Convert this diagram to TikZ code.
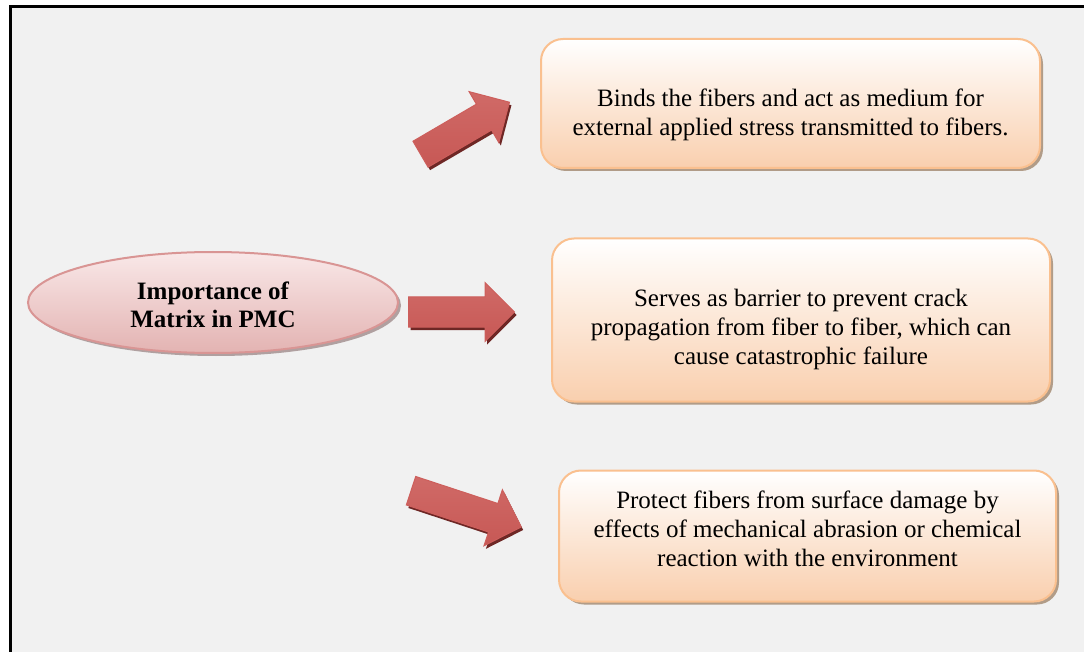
\documentclass[tikz,border=0pt]{standalone}
\usepackage{fontspec}
\setmainfont{Liberation Serif}
\usetikzlibrary{shapes.geometric,shapes.arrows,shadows}

\definecolor{pagegray}{HTML}{F1F1F1}
\definecolor{boxedge}{HTML}{FAC08F}
\definecolor{boxbottom}{HTML}{F9CFAE}
\definecolor{boxshadow}{HTML}{B19C88}
\definecolor{ovaledge}{HTML}{D99594}
\definecolor{ovaltop}{HTML}{F9E8E8}
\definecolor{ovalbottom}{HTML}{E3B3B2}
\definecolor{ovalshadow}{HTML}{B0A0A0}
\definecolor{arrowmid}{HTML}{BE4B48}
\definecolor{arrowlight}{HTML}{D06A67}
\definecolor{arrowlow}{HTML}{C75855}
\definecolor{arrowedge}{HTML}{CD5F5C}
\definecolor{arrowshadow}{HTML}{6E2725}

\tikzset{
  infobox/.style={draw=boxedge, line width=2pt, rounded corners=22pt,
    top color=white, bottom color=boxbottom, inner sep=0pt,
    drop shadow={shadow xshift=3pt, shadow yshift=-3pt, fill=boxshadow, opacity=1}},
  oval/.style={ellipse, draw=ovaledge, line width=2pt,
    top color=ovaltop, bottom color=ovalbottom, inner sep=0pt,
    minimum width=370pt, minimum height=101pt,
    drop shadow={shadow xshift=3pt, shadow yshift=-3pt, fill=ovalshadow, opacity=1}},
  blockarrow/.style={single arrow, inner xsep=0pt, inner ysep=14.5pt,
    single arrow head extend=14.5pt, draw=arrowedge, line width=1pt,
    top color=arrowlight, middle color=arrowmid, bottom color=arrowlow,
    drop shadow={shadow xshift=2pt, shadow yshift=-3pt, fill=arrowshadow, opacity=1}},
  bodytext/.style={font=\fontsize{25}{29}\selectfont, align=center,
    inner sep=0pt, anchor=north},
}

\begin{document}
\begin{tikzpicture}[x=1pt, y=-1pt]
  \useasboundingbox (0,0) rectangle (1084,652);
  \clip (0,0) rectangle (1084,652);
  \fill[white] (0,0) rectangle (1084,652);

  % outer frame
  \draw[line width=3pt, fill=pagegray] (10.5,7) rectangle (1110,680);

  % central topic
  \node[oval] (topic) at (213,302.5) {};
  \node[bodytext, font=\fontsize{25}{28}\selectfont\bfseries] (topictext) at (213,282)
    {Importance of\\Matrix in PMC};

  % three block arrows
  \node[blockarrow, minimum height=103pt, rotate=30.3] (arr1) at (458.5,132) {};
  \node[blockarrow, minimum height=106pt] (arr2) at (454,312) {};
  \node[blockarrow, minimum height=116pt, rotate=-18.2] (arr3) at (459,506.5) {};

  % role boxes
  \node[infobox, minimum width=499pt, minimum height=129pt] (role1) at (790.5,103.5) {};
  \node[bodytext] (role1text) at (790.5,89)
    {Binds the fibers and act as medium for\\external applied stress transmitted to fibers.};

  \node[infobox, minimum width=498pt, minimum height=163pt] (role2) at (801,320) {};
  \node[bodytext] (role2text) at (801,289)
    {Serves as barrier to prevent crack\\propagation from fiber to fiber, which can\\cause catastrophic failure};

  \node[infobox, minimum width=497pt, minimum height=131pt] (role3) at (807.5,536) {};
  \node[bodytext] (role3text) at (807.5,491)
    {Protect fibers from surface damage by\\effects of mechanical abrasion or chemical\\reaction with the environment};
\end{tikzpicture}
\end{document}
